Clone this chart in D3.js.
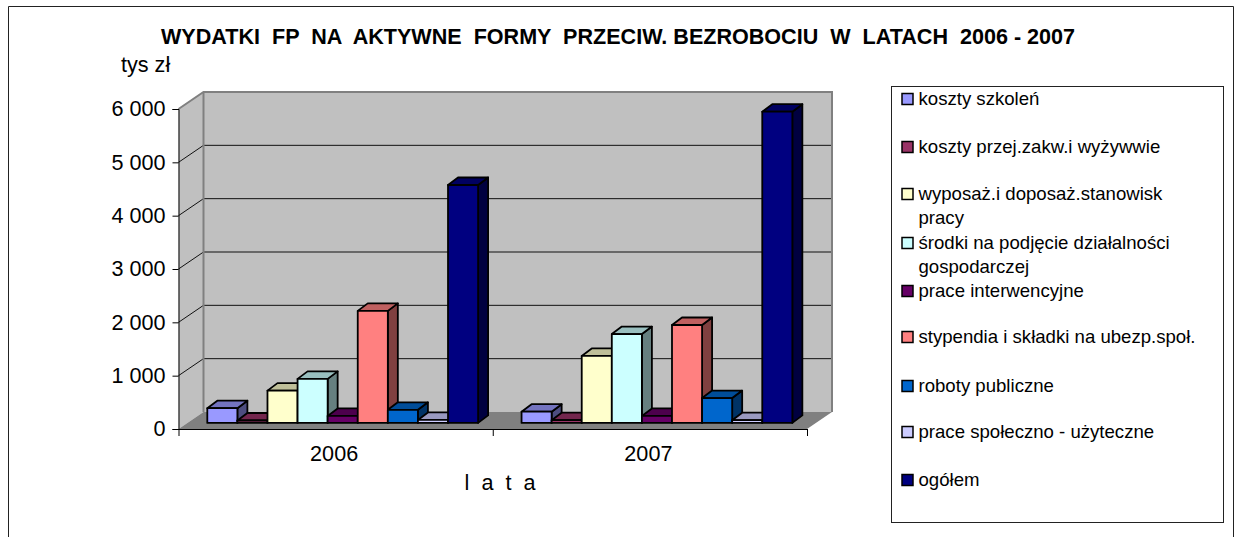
<!DOCTYPE html>
<html>
<head>
<meta charset="utf-8">
<script src="https://cdn.jsdelivr.net/npm/d3@7"></script>
<style>
  html, body { margin: 0; padding: 0; background: #fff; overflow: hidden; }
  text { font-family: "Liberation Sans", Arial, sans-serif; fill: #000; }
</style>
</head>
<body>
<div id="chart"></div>
<script>
// Chart data
var years = ["2006", "2007"];
var seriesNames = ["koszty szkoleń", "koszty przej.zakw.i wyżywwie", "wyposaż.i doposaż.stanowisk pracy",
    "środki na podjęcie działalności gospodarczej", "prace interwencyjne", "stypendia i składki na ubezp.społ.",
    "roboty publiczne", "prace społeczno - użyteczne", "ogółem"];
var values2006 = [275, 45, 605, 825, 130, 2100, 245, 55, 4460];
var values2007 = [210, 50, 1255, 1665, 130, 1835, 465, 50, 5835];
var seriesColors = ["#9999FF", "#993366", "#FFFFCC", "#CCFFFF", "#660066", "#FF8080", "#0066CC", "#CCCCFF", "#000080"];
var yTicks = [0, 1000, 2000, 3000, 4000, 5000, 6000];
var legendLines = [["koszty szkoleń"], ["koszty przej.zakw.i wyżywwie"], ["wyposaż.i doposaż.stanowisk", "pracy"],
    ["środki na podjęcie działalności", "gospodarczej"], ["prace interwencyjne"], ["stypendia i składki na ubezp.społ."],
    ["roboty publiczne"], ["prace społeczno - użyteczne"], ["ogółem"]];
var titleText = "WYDATKI  FP  NA  AKTYWNE  FORMY  PRZECIW. BEZROBOCIU  W  LATACH  2006 - 2007";

function init() {

    var width = 1235, height = 537;

    // Front plane of the plot, and how far the back wall is shifted
    var plot = {left: 178.5, right: 807, top: 109, bottom: 429};
    var depth = {x: 25, y: -17};
    // Bars stand part of the way into the floor
    var barDepth = {front: 0.36, x: 10, y: -7.5};

    var svg = d3.select("#chart").append("svg")
        .attr("width", width)
        .attr("height", height);

    // Scales
    var xCat = d3.scaleBand().domain(years).range([plot.left, plot.right]);
    var xEdges = d3.scaleLinear().domain([0, years.length]).range([plot.left, plot.right]);
    var yScale = d3.scaleLinear().domain([0, 6000]).range([plot.bottom, plot.top]);
    var xBar = d3.scaleBand().domain(d3.range(seriesNames.length)).range([28.8, 299.6]);

    var line = d3.line();

    // Outer frame, open at the bottom
    svg.append("path")
        .attr("d", line([[8.5, height], [8.5, 6.5], [1233.5, 6.5], [1233.5, height]]))
        .attr("fill", "none")
        .attr("stroke", "#222")
        .attr("stroke-width", 1);

    // Walls and floor
    var backTop = yScale(6000) + depth.y, backBottom = yScale(0) + depth.y;
    svg.append("path")
        .attr("d", line([[plot.left + depth.x, backTop], [plot.right + depth.x, backTop],
            [plot.right + depth.x, backBottom], [plot.left + depth.x, backBottom]]) + "Z")
        .attr("fill", "#C0C0C0");
    svg.append("path")
        .attr("d", line([[plot.left, plot.top], [plot.left + depth.x, backTop],
            [plot.left + depth.x, backBottom], [plot.left, plot.bottom]]) + "Z")
        .attr("fill", "#C0C0C0");
    svg.append("path")
        .attr("d", line([[plot.left, plot.bottom], [plot.left + depth.x, backBottom],
            [plot.right + depth.x, backBottom], [plot.right, plot.bottom]]) + "Z")
        .attr("fill", "#808080");

    // Gridlines across back wall and side wall
    var grid = svg.append("g");
    yTicks.slice(1, -1).forEach(function(t) {
        grid.append("path")
            .attr("d", line([[plot.left, yScale(t)], [plot.left + depth.x, yScale(t) + depth.y],
                [plot.right + depth.x, yScale(t) + depth.y]]))
            .attr("fill", "none")
            .attr("stroke", "#111")
            .attr("stroke-width", 1);
    });

    // Wall edges
    svg.append("path")
        .attr("d", line([[plot.left, plot.top], [plot.left + depth.x, backTop],
            [plot.right + depth.x, backTop], [plot.right + depth.x, backBottom]]))
        .attr("fill", "none")
        .attr("stroke", "#808080")
        .attr("stroke-width", 2);
    svg.append("path")
        .attr("d", line([[plot.left + depth.x, backTop], [plot.left + depth.x, backBottom]]))
        .attr("fill", "none")
        .attr("stroke", "#808080")
        .attr("stroke-width", 2);

    // Bars
    var base = yScale(0) + depth.y * barDepth.front;
    var baseOffset = base - yScale(0);
    var valuesByYear = {"2006": values2006, "2007": values2007};

    years.forEach(function(year) {
        var g = svg.append("g");
        valuesByYear[year].forEach(function(v, i) {
            var x0 = xCat(year) + xBar(i);
            var x1 = x0 + xBar.bandwidth();
            var yt = yScale(v) + baseOffset;
            var c = d3.rgb(seriesColors[i]);
            var top = d3.rgb(c.r * 0.75, c.g * 0.75, c.b * 0.75);
            var side = d3.rgb(c.r * 0.5, c.g * 0.5, c.b * 0.5);
            var faces = [
                {fill: side, pts: [[x1, base], [x1 + barDepth.x, base + barDepth.y], [x1 + barDepth.x, yt + barDepth.y], [x1, yt]]},
                {fill: top, pts: [[x0, yt], [x0 + barDepth.x, yt + barDepth.y], [x1 + barDepth.x, yt + barDepth.y], [x1, yt]]},
                {fill: c, pts: [[x0, base], [x0, yt], [x1, yt], [x1, base]]}
            ];
            g.selectAll(null)
                .data(faces)
                .enter()
                .append("path")
                .attr("d", function(d) { return line(d.pts) + "Z"; })
                .attr("fill", function(d) { return d.fill; })
                .attr("stroke", "#000")
                .attr("stroke-width", 1.8)
                .attr("stroke-linejoin", "round");
        });
    });

    // Y axis
    var yAxis = d3.axisLeft(yScale)
        .tickValues(yTicks)
        .tickSize(6)
        .tickPadding(7)
        .tickFormat(function(d) { return d3.format(",")(d).replace(",", " "); });

    var yG = svg.append("g")
        .attr("transform", "translate(" + plot.left + ",0)")
        .call(yAxis);
    yG.selectAll("text").attr("font-size", 21.6).style("font-family", "Liberation Sans");
    yG.selectAll("path,line").attr("stroke", "#000");

    // X axis: ticks sit on the category edges, labels in the middle
    var xTickG = svg.append("g")
        .attr("transform", "translate(0," + plot.bottom + ")")
        .call(d3.axisBottom(xEdges).tickValues(d3.range(years.length + 1)).tickSize(7).tickSizeOuter(0).tickFormat(""));
    xTickG.selectAll("path,line").attr("stroke", "#000");

    var xLabelG = svg.append("g")
        .attr("transform", "translate(-1.5," + plot.bottom + ")")
        .call(d3.axisBottom(xCat).tickSize(0).tickPadding(16.5));
    xLabelG.select("path").remove();
    xLabelG.selectAll("text").attr("font-size", 21.6).style("font-family", "Liberation Sans");

    // Titles
    svg.append("text")
        .attr("x", 161)
        .attr("y", 44)
        .attr("font-size", 21.57)
        .attr("font-weight", "bold")
        .attr("xml:space", "preserve")
        .style("white-space", "pre")
        .text(titleText);
    svg.append("text")
        .attr("x", 121)
        .attr("y", 72)
        .attr("font-size", 21.6)
        .text("tys zł");
    svg.append("text")
        .attr("x", 500)
        .attr("y", 490)
        .attr("text-anchor", "middle")
        .attr("font-size", 21.6)
        .attr("xml:space", "preserve")
        .style("white-space", "pre")
        .text("l  a  t  a");

    // Legend
    var legend = svg.append("g");
    legend.append("rect")
        .attr("x", 891.5)
        .attr("y", 86.5)
        .attr("width", 332)
        .attr("height", 436)
        .attr("fill", "#fff")
        .attr("stroke", "#222")
        .attr("stroke-width", 1);

    var rowY = [99, 147, 194, 243, 291, 337, 386, 432, 480];
    var lineStep = 24;
    seriesNames.forEach(function(name, i) {
        var row = legend.append("g").attr("transform", "translate(0," + rowY[i] + ")");
        row.append("rect")
            .attr("x", 902)
            .attr("y", -5.5)
            .attr("width", 11)
            .attr("height", 11)
            .attr("fill", seriesColors[i])
            .attr("stroke", "#000")
            .attr("stroke-width", 1.5);
        row.selectAll("text")
            .data(legendLines[i])
            .enter()
            .append("text")
            .attr("x", 918.5)
            .attr("y", function(d, j) { return 6 + j * lineStep; })
            .attr("font-size", 18.6)
            .text(function(d) { return d; });
    });
}

window.onload = init;
</script>
</body>
</html>
